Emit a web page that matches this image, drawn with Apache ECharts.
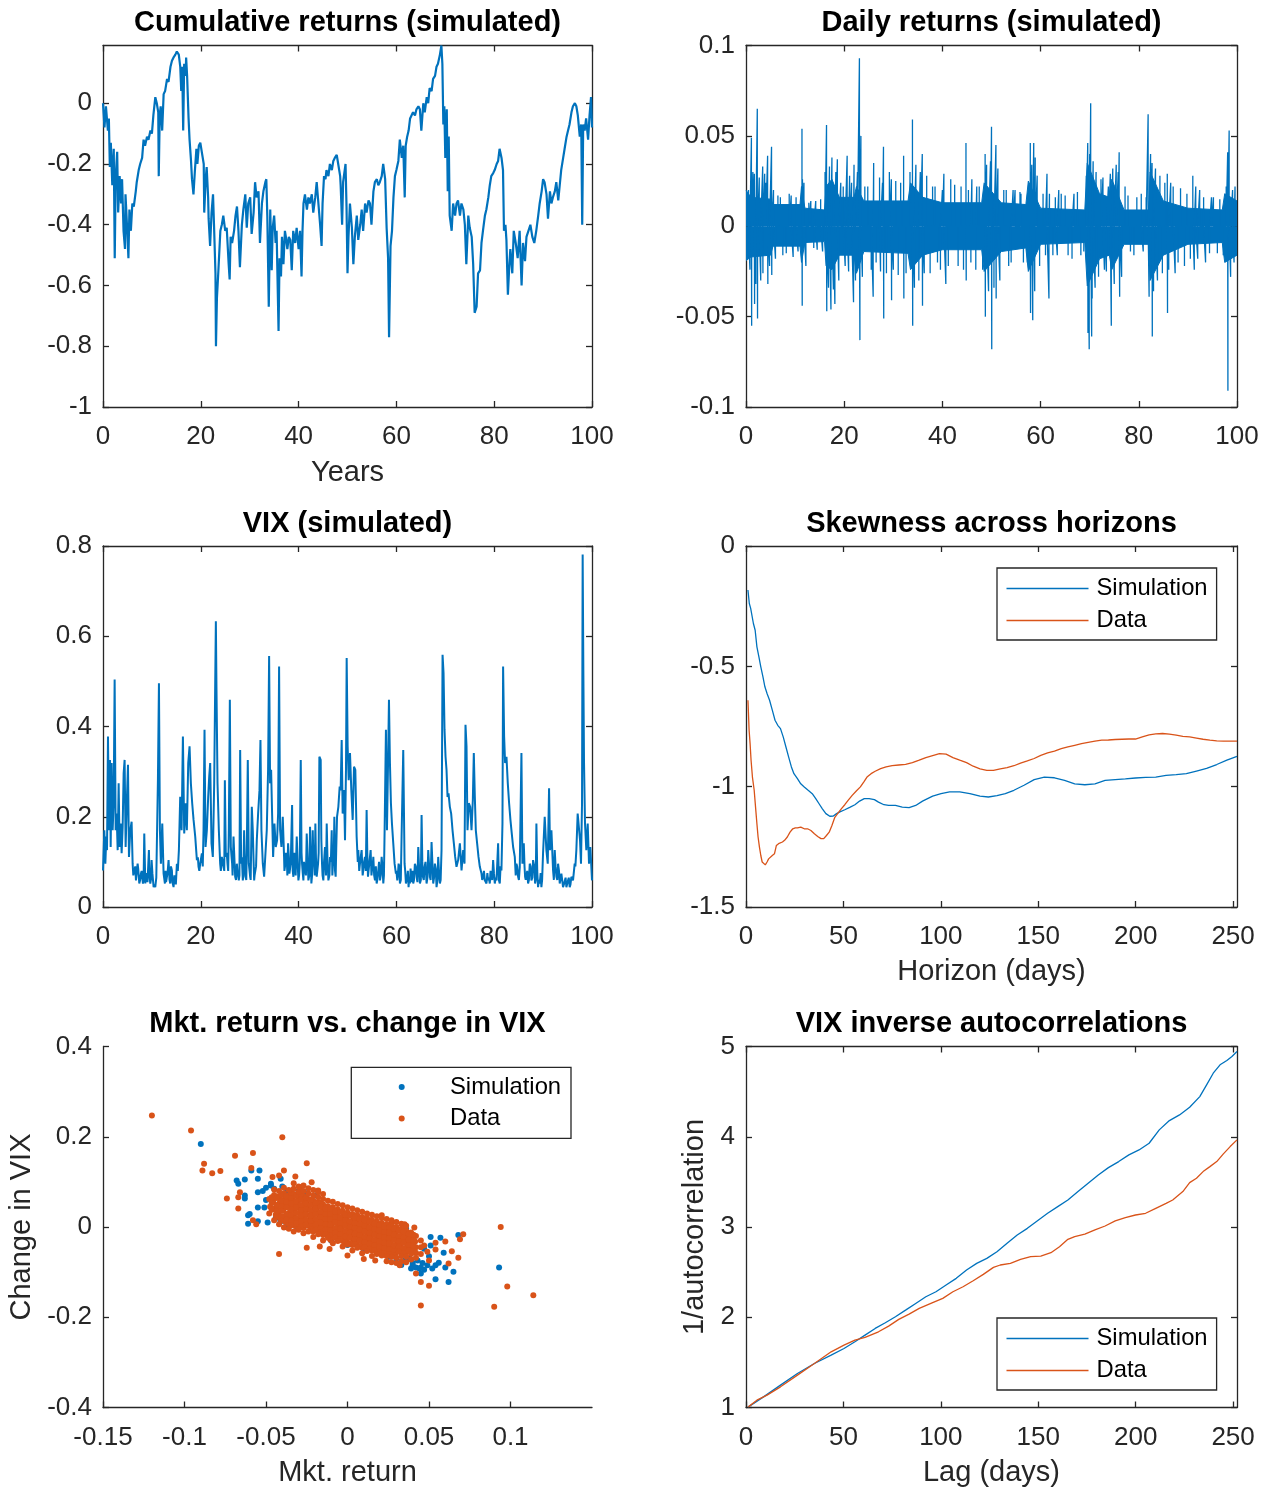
<!DOCTYPE html>
<html>
<head>
<meta charset="utf-8">
<script src="https://cdn.jsdelivr.net/npm/echarts@6/dist/echarts.min.js"></script>
<style>
html, body { margin: 0; padding: 0; background: #fff; }
#chart { width: 1270px; height: 1490px; }
</style>
</head>
<body>
<div id="chart"></div>
<script>
// ---- data ----

// cumulative returns (simulated): [year, value]
const cumReturns = [[0,0],[0.3,-0.08],[0.6,-0.01],[1.0,-0.09],[1.2,-0.05],[1.4,-0.21],[1.6,-0.13],[1.9,-0.27],[2.2,-0.15],[2.4,-0.51],[2.6,-0.24],[2.9,-0.16],[3.1,-0.36],[3.4,-0.24],[3.7,-0.33],[3.9,-0.25],[4.2,-0.42],[4.5,-0.48],[4.6,-0.30],[4.9,-0.40],[5.2,-0.51],[5.4,-0.35],[5.7,-0.42],[6.0,-0.33],[6.3,-0.34],[6.7,-0.29],[6.9,-0.26],[7.3,-0.22],[7.6,-0.20],[8.0,-0.18],[8.3,-0.12],[8.6,-0.14],[9.0,-0.11],[9.3,-0.12],[9.7,-0.09],[10.0,-0.10],[10.3,-0.04],[10.7,0.02],[11.0,0.00],[11.3,-0.03],[11.4,-0.24],[11.6,-0.04],[11.8,-0.01],[12.1,-0.09],[12.4,0.03],[12.7,0.04],[13.1,0.08],[13.4,0.07],[13.8,0.12],[14.1,0.14],[14.4,0.15],[14.8,0.16],[15.1,0.17],[15.5,0.16],[15.8,0.12],[16.0,0.04],[16.2,0.12],[16.4,-0.09],[16.6,0.13],[16.9,0.09],[17.0,0.15],[17.2,0.09],[17.5,-0.05],[17.7,-0.12],[18.0,-0.19],[18.2,-0.25],[18.5,-0.30],[18.8,-0.22],[19.1,-0.15],[19.3,-0.20],[19.6,-0.14],[19.9,-0.13],[20.2,-0.16],[20.6,-0.20],[20.7,-0.36],[21.0,-0.25],[21.2,-0.21],[21.5,-0.31],[21.6,-0.38],[21.9,-0.47],[22.2,-0.36],[22.5,-0.30],[22.7,-0.40],[23.0,-0.56],[23.1,-0.80],[23.3,-0.64],[23.6,-0.55],[24.0,-0.42],[24.3,-0.40],[24.6,-0.37],[25.0,-0.42],[25.3,-0.41],[25.7,-0.53],[25.9,-0.58],[26.1,-0.44],[26.4,-0.46],[26.8,-0.42],[27.1,-0.37],[27.4,-0.34],[27.7,-0.42],[28.0,-0.54],[28.4,-0.40],[28.7,-0.35],[29.1,-0.30],[29.4,-0.41],[29.7,-0.33],[30.1,-0.31],[30.4,-0.43],[30.8,-0.36],[31.1,-0.26],[31.4,-0.31],[31.8,-0.29],[32.1,-0.46],[32.5,-0.33],[32.8,-0.29],[33.2,-0.26],[33.4,-0.25],[33.6,-0.37],[33.9,-0.67],[34.2,-0.35],[34.5,-0.55],[34.7,-0.41],[35.0,-0.37],[35.3,-0.46],[35.5,-0.42],[35.9,-0.75],[36.1,-0.51],[36.4,-0.57],[36.6,-0.44],[36.9,-0.53],[37.2,-0.42],[37.4,-0.44],[37.7,-0.48],[38.0,-0.44],[38.3,-0.45],[38.6,-0.55],[38.9,-0.42],[39.3,-0.46],[39.6,-0.41],[40.0,-0.48],[40.3,-0.42],[40.6,-0.57],[40.8,-0.42],[41.0,-0.33],[41.3,-0.30],[41.7,-0.35],[42.0,-0.31],[42.3,-0.33],[42.7,-0.30],[43.0,-0.36],[43.4,-0.31],[43.7,-0.26],[44.0,-0.32],[44.4,-0.40],[44.7,-0.47],[44.9,-0.33],[45.2,-0.24],[45.5,-0.25],[45.7,-0.22],[46.1,-0.24],[46.4,-0.20],[46.8,-0.22],[47.1,-0.19],[47.4,-0.18],[47.8,-0.17],[48.1,-0.20],[48.5,-0.24],[48.6,-0.27],[48.9,-0.40],[49.1,-0.26],[49.6,-0.20],[49.8,-0.34],[50.0,-0.56],[50.2,-0.44],[50.5,-0.33],[50.9,-0.41],[51.2,-0.53],[51.5,-0.44],[51.9,-0.37],[52.2,-0.45],[52.6,-0.40],[52.9,-0.35],[53.2,-0.42],[53.6,-0.33],[53.9,-0.36],[54.3,-0.32],[54.6,-0.33],[54.9,-0.40],[55.3,-0.29],[55.6,-0.26],[56.0,-0.25],[56.3,-0.27],[56.6,-0.26],[57.0,-0.24],[57.3,-0.20],[57.7,-0.25],[58.0,-0.41],[58.3,-0.51],[58.5,-0.77],[58.8,-0.47],[59.1,-0.42],[59.4,-0.31],[59.7,-0.24],[60.0,-0.22],[60.4,-0.19],[60.7,-0.12],[61.1,-0.18],[61.4,-0.14],[61.7,-0.31],[61.9,-0.14],[62.2,-0.11],[62.5,-0.09],[62.8,-0.05],[63.1,-0.05],[63.4,-0.03],[63.8,-0.04],[64.1,-0.02],[64.5,-0.01],[64.8,-0.02],[65.1,-0.09],[65.5,0.00],[65.8,-0.03],[66.2,0.02],[66.5,0.00],[66.8,0.05],[67.2,0.04],[67.5,0.08],[67.9,0.09],[68.2,0.12],[68.5,0.13],[68.9,0.16],[69.2,0.19],[69.4,0.13],[69.6,-0.07],[69.8,-0.01],[70.0,-0.18],[70.3,-0.02],[70.5,-0.29],[70.7,-0.11],[70.9,-0.37],[71.3,-0.42],[71.6,-0.33],[72.0,-0.37],[72.3,-0.33],[72.6,-0.32],[73.0,-0.37],[73.3,-0.33],[73.7,-0.35],[74.0,-0.40],[74.3,-0.53],[74.7,-0.37],[75.0,-0.41],[75.4,-0.44],[75.7,-0.53],[76.0,-0.69],[76.4,-0.67],[76.7,-0.56],[77.1,-0.55],[77.4,-0.46],[77.7,-0.42],[78.1,-0.37],[78.4,-0.35],[78.8,-0.31],[79.1,-0.27],[79.4,-0.24],[79.8,-0.23],[80.1,-0.22],[80.5,-0.20],[80.8,-0.19],[81.1,-0.15],[81.5,-0.18],[81.8,-0.22],[82.0,-0.42],[82.3,-0.40],[82.5,-0.45],[82.8,-0.63],[83.1,-0.53],[83.3,-0.48],[83.7,-0.56],[84.0,-0.42],[84.4,-0.46],[84.8,-0.51],[85.2,-0.42],[85.6,-0.60],[85.9,-0.46],[86.3,-0.52],[86.6,-0.44],[87.0,-0.42],[87.4,-0.40],[87.8,-0.44],[88.2,-0.46],[88.6,-0.42],[89.0,-0.37],[89.3,-0.33],[89.7,-0.29],[90.0,-0.25],[90.3,-0.26],[90.7,-0.30],[91.0,-0.38],[91.4,-0.29],[91.7,-0.33],[92.0,-0.31],[92.4,-0.29],[92.7,-0.26],[93.1,-0.32],[93.4,-0.27],[93.7,-0.22],[94.1,-0.18],[94.4,-0.15],[94.8,-0.11],[95.1,-0.09],[95.4,-0.07],[95.8,-0.03],[96.1,-0.01],[96.5,0.00],[96.8,-0.01],[97.1,-0.04],[97.5,-0.11],[97.8,-0.07],[98.0,-0.40],[98.2,-0.07],[98.5,-0.09],[98.8,-0.05],[99.2,-0.12],[99.5,-0.04],[99.8,0.02],[100,-0.08]];

// daily returns (simulated): dense band edges and the single large days
const bandYears = [0,1,5,5.5,11,11.3,12,16,16.3,17.5,19,22,22.5,24,33,33.5,36,40,48,48.5,52,57,57.5,60,69,69.5,72,74,74.5,77,82,82.3,85,90,97,97.5,100];
const bandUpper = [0.020,0.016,0.015,0.012,0.012,0.022,0.010,0.009,0.022,0.026,0.016,0.016,0.022,0.014,0.014,0.024,0.016,0.013,0.013,0.024,0.013,0.012,0.025,0.010,0.009,0.035,0.018,0.016,0.026,0.009,0.009,0.030,0.014,0.010,0.009,0.018,0.014];
const bandLower = [-0.019,-0.017,-0.016,-0.011,-0.011,-0.020,-0.009,-0.0085,-0.022,-0.024,-0.016,-0.016,-0.026,-0.014,-0.015,-0.024,-0.016,-0.013,-0.013,-0.025,-0.014,-0.012,-0.025,-0.010,-0.009,-0.033,-0.018,-0.016,-0.024,-0.010,-0.010,-0.030,-0.016,-0.010,-0.009,-0.020,-0.016];
const dailySpikes = [[0.5,0.020],[1.1,0.049],[1.7,0.029],[2.3,0.065],[3.4,0.033],[3.8,0.029],[4.4,0.039],[5.2,0.044],[11.4,0.054],[11.5,0.026],[16.4,0.056],[17.5,0.038],[18.6,0.037],[20.6,0.039],[22.0,0.034],[23.1,0.093],[23.4,0.050],[26.0,0.035],[28.0,0.044],[29.6,0.026],[32.1,0.039],[33.9,0.059],[35.9,0.040],[40.3,0.029],[41.7,0.026],[44.8,0.046],[48.7,0.040],[50.0,0.055],[50.9,0.045],[54.8,0.020],[57.9,0.046],[58.6,0.046],[58.9,0.038],[61.3,0.029],[63.7,0.020],[69.6,0.046],[70.2,0.068],[70.7,0.036],[74.2,0.029],[75.4,0.034],[76.0,0.041],[81.9,0.062],[82.7,0.035],[85.8,0.029],[91.0,0.028],[98.1,0.041],[98.4,0.053],[99.1,0.020],
  [1.15,-0.055],[1.75,-0.043],[2.35,-0.051],[3.45,-0.026],[4.45,-0.032],[5.25,-0.027],[11.45,-0.044],[16.45,-0.047],[17.3,-0.046],[18.1,-0.043],[21.9,-0.042],[23.2,-0.063],[25.9,-0.039],[28.05,-0.051],[29.65,-0.041],[32.15,-0.040],[33.95,-0.055],[35.95,-0.044],[40.7,-0.032],[44.85,-0.030],[48.75,-0.050],[50.05,-0.068],[50.95,-0.040],[57.95,-0.048],[58.4,-0.052],[61.7,-0.040],[69.65,-0.059],[69.9,-0.068],[70.4,-0.061],[71.1,-0.034],[74.4,-0.055],[76.1,-0.039],[82.1,-0.039],[82.75,-0.061],[85.85,-0.048],[91.3,-0.024],[98.15,-0.091],[99.4,-0.020],
  [6.5,0.017],[7.5,-0.016],[8.8,0.018],[9.6,-0.017],[10.2,0.016],[13.2,0.014],[14.5,-0.013],[15.2,0.015],[19.8,0.022],[20.9,-0.025],[21.5,0.024],[24.8,0.022],[25.5,-0.024],[27.2,0.027],[27.4,-0.025],[30.5,0.025],[31.0,-0.027],[36.8,0.028],[37.5,-0.026],[38.5,0.022],[39.6,-0.024],[42.5,0.023],[43.2,-0.022],[46.0,0.026],[46.8,-0.024],[47.5,0.022],[53.0,0.020],[53.5,-0.022],[55.8,0.019],[56.5,-0.020],[61.8,0.018],[62.5,-0.016],[65.0,0.017],[66.4,-0.018],[67.5,0.019],[68.2,-0.016],[72.7,0.027],[73.4,-0.025],[77.8,0.017],[79.0,-0.016],[80.5,0.018],[86.5,0.024],[87.4,-0.026],[88.5,0.021],[89.3,-0.022],[92.4,0.020],[93.6,-0.020],[95.2,0.016],[96.0,-0.015],[97.8,0.022],
  [0.8,-0.024],[1.4,0.030],[2.0,-0.032],[2.7,0.027],[3.0,-0.030],[4.0,0.024],[4.8,-0.022],[5.6,0.020],[6.0,-0.018],[7.0,0.016],[8.2,-0.015],[9.2,0.017],[10.6,-0.014],[11.8,0.024],[12.2,-0.022],[12.8,0.013],[13.8,-0.012],[14.2,0.014],[15.6,-0.014],[16.1,0.030],[16.8,-0.034],[17.0,0.033],[17.8,-0.035],[18.3,0.030],[18.9,-0.030],[19.3,0.024],[20.2,-0.022],[21.1,0.028],[22.3,-0.030],[22.7,0.030],[23.7,-0.028],[24.2,0.022],[26.5,-0.020],[27.8,0.024],[28.6,-0.026],[29.2,0.030],[30.0,-0.024],[31.5,0.024],[32.6,-0.026],[33.4,0.030],[34.3,-0.034],[34.6,0.034],[35.2,-0.030],[35.5,0.030],[36.3,-0.026],[38.0,0.022],[39.0,-0.020],[40.0,0.020],[41.2,-0.022],[43.8,0.022],[44.3,-0.024],[45.3,0.020],[45.8,-0.020],[47.0,0.022],[48.2,-0.024],[49.0,0.034],[49.4,-0.036],[49.8,0.036],[50.5,-0.034],[51.3,0.032],[51.7,-0.030],[52.5,0.020],[54.0,-0.020],[54.4,0.020],[56.0,0.018],[57.3,-0.020],[58.2,0.034],[58.8,-0.036],[59.3,0.028],[59.8,-0.022],[60.5,0.018],[61.0,-0.016],[63.0,0.016],[63.4,-0.016],[64.2,0.018],[65.6,-0.016],[66.8,0.018],[68.8,-0.014],[69.3,0.028],[70.0,0.040],[70.5,-0.040],[71.3,0.030],[71.8,-0.028],[72.3,0.026],[73.0,-0.024],[73.8,0.022],[74.7,0.032],[75.0,-0.032],[75.8,0.030],[76.5,-0.028],[77.2,0.022],[78.3,-0.014],[79.6,0.016],[80.9,-0.014],[81.5,0.016],[82.4,0.040],[83.0,-0.036],[83.4,0.032],[83.8,-0.030],[84.3,0.028],[84.8,-0.026],[85.3,0.024],[86.1,-0.024],[87.0,0.022],[88.0,-0.020],[89.8,0.018],[90.5,-0.018],[91.6,0.022],[92.0,-0.018],[93.2,0.016],[94.4,-0.015],[94.8,0.016],[96.5,0.015],[97.2,-0.016],[98.7,-0.028],[99.6,0.022]];

// VIX (simulated): [year, level] – main trace, and extra readings of the noisy floor
const vixLevels = [[0,0.081],[0.27,0.170],[0.48,0.096],[0.68,0.156],[0.82,0.126],[1.02,0.378],[1.23,0.170],[1.43,0.326],[1.57,0.133],[1.77,0.319],[1.97,0.170],[2.18,0.230],[2.38,0.504],[2.59,0.170],[2.79,0.207],[3.00,0.126],[3.20,0.274],[3.40,0.133],[3.61,0.185],[3.81,0.119],[4.02,0.178],[4.22,0.296],[4.42,0.326],[4.63,0.133],[4.90,0.244],[5.11,0.315],[5.31,0.111],[5.58,0.170],[5.85,0.189],[6.06,0.096],[6.40,0.081],[6.74,0.059],[7.08,0.096],[7.42,0.052],[7.76,0.074],[8.17,0.052],[8.44,0.163],[8.65,0.052],[8.99,0.067],[9.39,0.126],[9.67,0.052],[9.94,0.104],[10.35,0.044],[10.69,0.044],[11.03,0.067],[11.23,0.281],[11.44,0.496],[11.64,0.170],[11.84,0.096],[12.12,0.185],[12.39,0.074],[12.66,0.052],[13.07,0.067],[13.41,0.104],[13.75,0.052],[14.09,0.081],[14.43,0.044],[14.77,0.059],[15.11,0.096],[15.52,0.126],[15.79,0.244],[16.07,0.170],[16.34,0.378],[16.61,0.163],[16.88,0.230],[17.15,0.170],[17.43,0.319],[17.70,0.356],[17.97,0.274],[18.24,0.230],[18.52,0.193],[18.86,0.156],[19.20,0.104],[19.54,0.089],[19.88,0.096],[20.22,0.119],[20.56,0.170],[20.76,0.393],[20.97,0.133],[21.24,0.170],[21.51,0.244],[21.72,0.289],[21.92,0.319],[22.19,0.141],[22.46,0.111],[22.74,0.274],[22.94,0.489],[23.08,0.633],[23.21,0.481],[23.42,0.274],[23.69,0.170],[23.96,0.096],[24.30,0.111],[24.64,0.089],[24.92,0.281],[25.12,0.111],[25.46,0.096],[25.73,0.170],[25.94,0.459],[26.14,0.133],[26.41,0.096],[26.69,0.156],[27.03,0.067],[27.37,0.096],[27.77,0.059],[28.05,0.348],[28.25,0.096],[28.59,0.059],[28.86,0.170],[29.14,0.067],[29.41,0.126],[29.61,0.326],[29.82,0.096],[30.09,0.067],[30.43,0.222],[30.63,0.170],[30.91,0.059],[31.18,0.067],[31.45,0.148],[31.72,0.207],[32.00,0.259],[32.20,0.370],[32.40,0.170],[32.68,0.096],[32.95,0.067],[33.22,0.067],[33.49,0.170],[33.76,0.304],[33.97,0.556],[34.17,0.274],[34.38,0.304],[34.58,0.207],[34.79,0.111],[35.06,0.185],[35.33,0.133],[35.60,0.148],[35.81,0.207],[36.01,0.533],[36.22,0.170],[36.49,0.133],[36.76,0.200],[37.03,0.111],[37.30,0.096],[37.58,0.111],[37.85,0.141],[38.12,0.074],[38.39,0.096],[38.67,0.226],[38.94,0.067],[39.28,0.096],[39.62,0.156],[39.96,0.059],[40.23,0.096],[40.44,0.326],[40.71,0.096],[40.98,0.059],[41.32,0.096],[41.66,0.163],[42.00,0.059],[42.34,0.178],[42.61,0.052],[42.89,0.170],[43.16,0.096],[43.43,0.185],[43.70,0.067],[43.98,0.096],[44.25,0.333],[44.52,0.326],[44.79,0.096],[45.06,0.059],[45.40,0.133],[45.75,0.185],[46.09,0.059],[46.43,0.111],[46.77,0.170],[47.04,0.096],[47.31,0.200],[47.58,0.067],[47.86,0.200],[48.13,0.222],[48.40,0.267],[48.60,0.259],[48.81,0.370],[49.01,0.207],[49.29,0.259],[49.49,0.148],[49.69,0.304],[49.83,0.552],[50.03,0.356],[50.24,0.281],[50.51,0.341],[50.78,0.259],[51.06,0.193],[51.33,0.311],[51.60,0.304],[51.87,0.156],[52.21,0.126],[52.55,0.096],[52.89,0.126],[53.23,0.081],[53.57,0.111],[53.91,0.215],[54.19,0.067],[54.46,0.096],[54.73,0.126],[55.00,0.081],[55.28,0.111],[55.62,0.059],[55.96,0.052],[56.30,0.081],[56.64,0.059],[56.98,0.111],[57.32,0.052],[57.59,0.170],[57.86,0.393],[58.07,0.170],[58.27,0.304],[58.48,0.459],[58.68,0.319],[58.88,0.230],[59.09,0.185],[59.36,0.141],[59.63,0.096],[59.90,0.074],[60.18,0.059],[60.45,0.096],[60.72,0.052],[61.06,0.156],[61.40,0.348],[61.67,0.096],[61.95,0.052],[62.22,0.067],[62.49,0.044],[62.76,0.052],[63.17,0.074],[63.44,0.052],[63.78,0.096],[64.13,0.067],[64.47,0.133],[64.81,0.052],[65.15,0.204],[65.42,0.067],[65.76,0.089],[66.17,0.052],[66.51,0.126],[66.85,0.067],[67.19,0.144],[67.53,0.052],[67.87,0.096],[68.21,0.044],[68.55,0.111],[68.89,0.052],[69.23,0.126],[69.44,0.559],[69.64,0.519],[69.84,0.393],[70.05,0.333],[70.25,0.304],[70.46,0.244],[70.66,0.252],[70.93,0.222],[71.20,0.207],[71.48,0.170],[71.75,0.141],[72.02,0.111],[72.29,0.089],[72.63,0.104],[72.98,0.141],[73.32,0.081],[73.66,0.126],[73.93,0.096],[74.13,0.404],[74.34,0.356],[74.54,0.170],[74.81,0.230],[75.09,0.222],[75.36,0.170],[75.63,0.237],[75.83,0.341],[76.04,0.244],[76.24,0.170],[76.51,0.141],[76.79,0.111],[77.06,0.089],[77.40,0.074],[77.74,0.067],[78.08,0.059],[78.42,0.052],[78.76,0.059],[79.10,0.052],[79.44,0.067],[79.78,0.104],[80.12,0.052],[80.46,0.059],[80.80,0.141],[81.14,0.052],[81.48,0.081],[81.69,0.185],[81.82,0.533],[82.03,0.378],[82.23,0.319],[82.51,0.333],[82.78,0.274],[83.05,0.230],[83.32,0.193],[83.59,0.163],[83.87,0.133],[84.21,0.111],[84.55,0.096],[84.89,0.067],[85.23,0.089],[85.57,0.341],[85.77,0.096],[86.05,0.141],[86.32,0.067],[86.59,0.059],[86.93,0.052],[87.27,0.096],[87.61,0.059],[87.95,0.104],[88.36,0.052],[88.63,0.185],[88.97,0.044],[89.31,0.052],[89.65,0.044],[89.99,0.119],[90.33,0.200],[90.67,0.126],[90.95,0.096],[91.22,0.263],[91.42,0.126],[91.70,0.170],[92.04,0.081],[92.38,0.126],[92.72,0.067],[93.06,0.096],[93.40,0.052],[93.74,0.074],[94.08,0.044],[94.42,0.052],[94.76,0.044],[95.10,0.059],[95.44,0.044],[95.78,0.067],[96.12,0.059],[96.46,0.096],[96.80,0.126],[97.07,0.207],[97.34,0.207],[97.55,0.148],[97.75,0.096],[97.96,0.230],[98.09,0.781],[98.23,0.526],[98.37,0.319],[98.57,0.185],[98.84,0.126],[99.12,0.185],[99.39,0.096],[99.66,0.133],[100,0.059]];
const vixFloor = [[6.2,0.07],[6.6,0.09],[6.9,0.06],[7.2,0.085],[7.6,0.06],[7.9,0.08],[8.3,0.06],[8.8,0.075],[9.1,0.055],[9.5,0.07],[9.8,0.06],[10.1,0.075],[10.5,0.05],[10.9,0.065],
  [12.5,0.065],[12.8,0.08],[12.9,0.055],[13.2,0.075],[13.6,0.06],[13.9,0.09],[14.2,0.055],[14.6,0.07],[14.9,0.05],[15.3,0.08],
  [19.4,0.11],[19.7,0.08],[20.1,0.1],[20.4,0.09],
  [24.1,0.08],[24.5,0.1],[24.8,0.08],[25.3,0.12],[25.6,0.08],[26.3,0.11],[26.5,0.07],[26.9,0.1],[27.2,0.06],[27.5,0.08],[27.9,0.07],[28.4,0.11],[28.7,0.07],[29.0,0.1],[29.3,0.06],[30.0,0.1],[30.2,0.06],[30.8,0.1],[31.0,0.07],[31.3,0.09],
  [37.1,0.08],[37.4,0.12],[37.7,0.07],[38.0,0.11],[38.3,0.07],[38.5,0.1],[38.8,0.08],[39.1,0.12],[39.4,0.07],[39.8,0.1],[40.1,0.07],[40.6,0.12],[40.85,0.075],[41.1,0.1],[41.5,0.07],[41.8,0.12],[42.2,0.07],[42.5,0.1],[42.75,0.07],[43.0,0.12],[43.3,0.07],[43.55,0.11],[43.85,0.07],[44.1,0.12],[44.65,0.15],[44.9,0.07],[45.2,0.1],[45.6,0.07],[45.9,0.11],[46.3,0.07],[46.6,0.1],[46.9,0.07],[47.2,0.12],[47.45,0.08],[47.7,0.13],
  [52.1,0.1],[52.4,0.08],[52.7,0.11],[53.1,0.07],[53.4,0.1],[53.75,0.08],[54.05,0.12],[54.3,0.08],[54.6,0.1],[54.9,0.07],[55.15,0.09],[55.45,0.07],[55.8,0.09],[56.1,0.06],[56.45,0.1],[56.8,0.07],[57.15,0.09],[57.45,0.07],
  [60.0,0.08],[60.3,0.07],[60.6,0.09],[60.9,0.06],[61.8,0.08],[62.1,0.055],[62.35,0.08],[62.6,0.06],[62.9,0.085],[63.05,0.055],[63.3,0.08],[63.6,0.06],[63.95,0.09],[64.3,0.055],[64.65,0.085],[65.0,0.06],[65.3,0.1],[65.6,0.06],[65.95,0.1],[66.35,0.065],[66.7,0.09],[67.0,0.06],[67.35,0.1],[67.7,0.065],[68.05,0.085],[68.4,0.06],[68.7,0.08],[69.05,0.06],
  [77.2,0.085],[77.55,0.06],[77.9,0.08],[78.25,0.06],[78.6,0.075],[78.9,0.065],[79.25,0.08],[79.6,0.06],[79.95,0.075],[80.3,0.065],[80.6,0.09],[80.95,0.06],[81.3,0.09],
  [84.4,0.07],[84.7,0.09],[85.05,0.06],[86.2,0.09],[86.45,0.06],[86.75,0.08],[87.1,0.06],[87.45,0.09],[87.8,0.065],[88.2,0.09],[88.5,0.06],[88.8,0.08],[89.15,0.06],[89.5,0.075],[89.8,0.06],
  [92.2,0.06],[92.55,0.09],[92.9,0.06],[93.25,0.08],[93.55,0.055],[93.9,0.07],[94.25,0.05],[94.6,0.065],[94.9,0.05],[95.25,0.065],[95.6,0.05],[95.95,0.07],[96.3,0.06],[96.6,0.09]];

// skewness across horizons: [days, skewness]
const skewSim = [[1.0,-0.183],[1.7,-0.239],[2.4,-0.259],[3.1,-0.259],[3.8,-0.322],[4.7,-0.350],[5.6,-0.419],[6.6,-0.460],[7.6,-0.502],[8.7,-0.544],[9.7,-0.585],[10.8,-0.613],[12.1,-0.641],[13.5,-0.682],[14.9,-0.724],[16.3,-0.745],[17.7,-0.759],[19.1,-0.793],[20.5,-0.835],[21.9,-0.877],[23.3,-0.918],[24.6,-0.946],[26.4,-0.967],[28.1,-0.988],[29.9,-1.001],[31.9,-1.015],[34.0,-1.029],[35.8,-1.050],[37.5,-1.071],[39.2,-1.092],[41.0,-1.112],[43.0,-1.123],[44.8,-1.122],[46.5,-1.112],[48.2,-1.105],[50.7,-1.096],[53.5,-1.085],[55.9,-1.075],[58.3,-1.060],[60.7,-1.050],[63.2,-1.050],[65.9,-1.054],[68.0,-1.064],[70.8,-1.075],[73.2,-1.078],[76.7,-1.078],[80.2,-1.085],[83.7,-1.087],[87.1,-1.078],[90.6,-1.060],[95.8,-1.039],[100.1,-1.029],[104.5,-1.022],[109.7,-1.022],[114.9,-1.029],[120.1,-1.039],[124.4,-1.043],[128.8,-1.037],[133.1,-1.029],[137.5,-1.015],[142.7,-0.994],[147.9,-0.971],[153.1,-0.960],[158.3,-0.963],[163.5,-0.974],[168.7,-0.988],[173.9,-0.992],[179.1,-0.988],[184.3,-0.974],[189.5,-0.971],[194.7,-0.968],[199.9,-0.964],[205.1,-0.961],[210.3,-0.960],[215.6,-0.953],[220.8,-0.950],[226.0,-0.946],[231.2,-0.935],[236.4,-0.924],[241.6,-0.908],[246.8,-0.890],[252.0,-0.874]];
const skewData = [[1.0,-0.641],[1.6,-0.766],[2.1,-0.821],[2.6,-0.890],[3.3,-0.960],[4.2,-1.015],[4.9,-1.085],[5.6,-1.154],[6.2,-1.209],[6.9,-1.251],[7.6,-1.286],[8.3,-1.313],[9.0,-1.320],[9.9,-1.325],[10.8,-1.313],[11.6,-1.300],[12.5,-1.293],[13.5,-1.286],[14.6,-1.279],[15.6,-1.244],[16.7,-1.237],[17.7,-1.230],[18.7,-1.230],[19.8,-1.223],[21.2,-1.209],[22.6,-1.189],[24.0,-1.175],[25.3,-1.171],[26.4,-1.171],[28.1,-1.168],[29.9,-1.175],[31.6,-1.175],[33.3,-1.182],[35.1,-1.196],[36.8,-1.207],[38.5,-1.216],[39.9,-1.216],[41.3,-1.203],[42.7,-1.189],[44.1,-1.161],[45.5,-1.129],[47.2,-1.110],[48.9,-1.092],[50.7,-1.075],[52.4,-1.057],[54.5,-1.036],[56.6,-1.018],[58.7,-1.001],[60.4,-0.981],[62.1,-0.960],[64.2,-0.946],[66.3,-0.936],[69.1,-0.925],[71.9,-0.918],[75.0,-0.913],[78.4,-0.910],[81.9,-0.907],[85.4,-0.900],[88.9,-0.890],[92.3,-0.879],[95.8,-0.871],[99.3,-0.863],[102.7,-0.865],[106.2,-0.879],[109.7,-0.890],[113.2,-0.900],[116.6,-0.915],[120.1,-0.926],[123.6,-0.932],[127.0,-0.932],[130.5,-0.926],[134.0,-0.921],[137.5,-0.913],[140.9,-0.902],[144.4,-0.893],[147.9,-0.883],[151.3,-0.870],[154.8,-0.860],[158.3,-0.852],[161.8,-0.842],[165.2,-0.835],[168.7,-0.828],[172.2,-0.821],[175.6,-0.816],[179.1,-0.811],[182.6,-0.807],[186.0,-0.806],[189.5,-0.804],[193.0,-0.803],[196.5,-0.802],[199.9,-0.802],[203.4,-0.793],[206.9,-0.785],[210.3,-0.781],[213.8,-0.779],[217.3,-0.782],[220.8,-0.786],[224.2,-0.791],[227.7,-0.793],[231.2,-0.798],[234.6,-0.803],[238.1,-0.807],[241.6,-0.810],[245.0,-0.811],[248.5,-0.811],[252.0,-0.811]];

// mkt. return vs. change in VIX: [return, change]
const scatterSim = [[-0.090,0.184],[-0.067,0.096],[-0.063,0.105],[-0.059,0.125],[-0.054,0.125],[-0.055,0.107],[-0.055,0.077],[-0.063,0.063],[-0.063,0.070],[-0.060,0.029],[-0.061,0.007],[-0.055,0.043],[-0.051,0.043],[-0.049,0.010],[-0.050,0.087],[-0.047,0.096],[-0.041,0.107],[-0.041,0.013],[-0.035,0.004],[-0.031,0.000],[-0.068,0.103],[-0.052,0.080],[-0.047,0.092],[-0.061,0.026],[-0.055,0.013],[-0.029,0.000],[-0.045,0.085],[-0.040,0.090],[-0.037,0.080],[-0.050,0.060],[-0.044,0.020],[-0.038,0.000],[-0.020,0.070],[-0.030,0.080],[-0.025,0.075],
  [0.093,-0.090],[0.068,-0.018],[0.065,-0.099],[0.062,-0.122],[0.054,-0.116],[0.060,-0.090],[0.056,-0.079],[0.059,-0.057],[0.051,-0.022],[0.051,-0.041],[0.057,-0.024],[0.045,-0.103],[0.045,-0.090],[0.040,-0.085],[0.043,-0.074],[0.049,-0.085],[0.054,-0.085],[0.038,-0.070],[0.034,-0.059],[0.026,-0.066],[0.036,-0.004],[0.047,-0.048],[0.030,-0.070],[0.035,-0.075],[0.040,-0.080],[0.042,-0.090],[0.047,-0.095],[0.050,-0.065],[0.028,-0.062],[0.020,-0.055],[0.010,-0.050],[0.000,-0.040],[-0.010,-0.030],
  [0.044,-0.092],[0.039,-0.092],[0.046,-0.080],[0.052,-0.092],[0.033,-0.084]];
const scatterData = [[-0.120,0.247],[-0.096,0.214],[-0.040,0.199],[-0.058,0.164],[-0.069,0.158],[-0.088,0.140],[-0.089,0.125],[-0.083,0.119],[-0.078,0.124],[-0.059,0.131],[-0.025,0.141],[-0.039,0.125],[-0.032,0.112],[-0.046,0.111],[-0.042,0.114],[-0.022,0.099],[-0.029,0.088],[-0.018,0.081],[-0.074,0.063],[-0.067,0.066],[-0.066,0.077],[-0.067,0.041],[-0.056,0.006],[-0.058,0.015],[-0.042,-0.060],[-0.025,-0.046],[-0.017,-0.043],[-0.011,-0.049],[0.000,-0.063],[0.010,-0.071],[0.017,-0.074],[0.032,-0.085],[0.042,-0.103],[0.045,-0.122],[0.050,-0.130],[0.045,-0.174],[0.094,0.000],[0.098,-0.132],[0.090,-0.177],[0.114,-0.151],[0.071,-0.016],[0.069,-0.027],[0.068,-0.068],[0.064,-0.054],[0.062,-0.081],[0.054,-0.050],[0.060,-0.032],[0.054,-0.035],[0.047,-0.041],[0.049,-0.055],[0.050,-0.074],[0.027,0.011],[0.035,0.006],[0.041,-0.001],[0.021,0.026],
  [-0.048,0.062],[-0.0475,0.045],[-0.048,0.03],
  [-0.045,0.071],[-0.0455,0.056],[-0.045,0.041],[-0.044,0.027],
  [-0.042,0.068],[-0.0415,0.055],[-0.042,0.043],[-0.0425,0.03],[-0.041,0.018],
  [-0.039,0.075],[-0.0385,0.062],[-0.039,0.049],[-0.0395,0.036],[-0.039,0.022],[-0.038,0.011],
  [-0.036,0.07],[-0.0365,0.058],[-0.036,0.045],[-0.0355,0.032],[-0.036,0.02],[-0.0365,0.008],
  [-0.033,0.073],[-0.0335,0.061],[-0.033,0.048],[-0.0325,0.036],[-0.033,0.024],[-0.0335,0.012],[-0.032,0.002],
  [-0.03,0.066],[-0.0305,0.054],[-0.03,0.042],[-0.0295,0.03],[-0.03,0.018],[-0.0305,0.006],
  [-0.027,0.068],[-0.0265,0.057],[-0.027,0.045],[-0.0275,0.034],[-0.027,0.022],[-0.0265,0.01],[-0.027,-0.002],
  [-0.024,0.062],[-0.0245,0.05],[-0.024,0.038],[-0.0235,0.026],[-0.024,0.014],[-0.0245,0.003],
  [-0.021,0.058],[-0.0205,0.047],[-0.021,0.035],[-0.0215,0.023],[-0.021,0.011],[-0.0205,0.0],[-0.021,-0.01],
  [-0.018,0.055],[-0.0185,0.043],[-0.018,0.031],[-0.0175,0.02],[-0.018,0.008],[-0.0185,-0.004],
  [-0.015,0.05],[-0.0145,0.039],[-0.015,0.027],[-0.0155,0.015],[-0.015,0.004],[-0.0145,-0.008],[-0.015,-0.018],
  [-0.012,0.046],[-0.0125,0.035],[-0.012,0.023],[-0.0115,0.011],[-0.012,0.0],[-0.0125,-0.012],
  [-0.009,0.044],[-0.0085,0.032],[-0.009,0.02],[-0.0095,0.008],[-0.009,-0.004],[-0.0085,-0.015],[-0.009,-0.024],
  [-0.006,0.039],[-0.0065,0.028],[-0.006,0.016],[-0.0055,0.004],[-0.006,-0.008],[-0.0065,-0.019],
  [-0.003,0.036],[-0.0025,0.024],[-0.003,0.012],[-0.0035,0.0],[-0.003,-0.012],[-0.0025,-0.023],[-0.003,-0.031],
  [0,0.032],[-0.0005,0.021],[0,0.009],[0.0005,-0.003],[0,-0.015],[-0.0005,-0.027],
  [0.003,0.029],[0.0035,0.017],[0.003,0.005],[0.0025,-0.007],[0.003,-0.019],[0.0035,-0.031],[0.003,-0.04],
  [0.006,0.026],[0.0055,0.014],[0.006,0.002],[0.0065,-0.01],[0.006,-0.022],[0.0055,-0.034],
  [0.009,0.022],[0.0095,0.01],[0.009,-0.002],[0.0085,-0.014],[0.009,-0.026],[0.0095,-0.038],[0.009,-0.046],
  [0.012,0.019],[0.0115,0.007],[0.012,-0.005],[0.0125,-0.017],[0.012,-0.029],[0.0115,-0.041],
  [0.015,0.016],[0.0155,0.004],[0.015,-0.008],[0.0145,-0.02],[0.015,-0.032],[0.0155,-0.044],[0.015,-0.052],
  [0.018,0.012],[0.0175,0.0],[0.018,-0.012],[0.0185,-0.024],[0.018,-0.036],[0.0175,-0.048],
  [0.021,0.009],[0.0215,-0.003],[0.021,-0.015],[0.0205,-0.027],[0.021,-0.039],[0.0215,-0.051],
  [0.024,0.006],[0.0235,-0.006],[0.024,-0.018],[0.0245,-0.03],[0.024,-0.042],[0.0235,-0.054],
  [0.027,0.004],[0.0275,-0.008],[0.027,-0.02],[0.0265,-0.032],[0.027,-0.044],[0.0275,-0.057],
  [0.03,0.0],[0.0295,-0.012],[0.03,-0.024],[0.0305,-0.036],[0.03,-0.048],[0.0295,-0.058],
  [0.033,-0.004],[0.0335,-0.016],[0.033,-0.028],[0.0325,-0.04],[0.033,-0.052],
  [0.036,-0.008],[0.0355,-0.02],[0.036,-0.032],[0.0365,-0.044],[0.036,-0.056],
  [0.039,-0.012],[0.0395,-0.024],[0.039,-0.036],[0.0385,-0.048],
  [0.042,-0.02],[0.0415,-0.032],[0.042,-0.045],
  [-0.0465,0.066],[-0.0465,0.053],[-0.0465,0.038],
  [-0.0435,0.064],[-0.0435,0.049],[-0.0435,0.035],[-0.0435,0.022],
  [-0.0405,0.071],[-0.0405,0.058],[-0.0405,0.046],[-0.0405,0.036],[-0.0405,0.024],[-0.0405,0.014],
  [-0.0375,0.068],[-0.0375,0.055],[-0.0375,0.043],[-0.0375,0.029],[-0.0375,0.016],
  [-0.0345,0.076],[-0.0345,0.064],[-0.0345,0.052],[-0.0345,0.039],[-0.0345,0.026],[-0.0345,0.014],[-0.0345,0.004],
  [-0.0315,0.069],[-0.0315,0.057],[-0.0315,0.044],[-0.0315,0.031],[-0.0315,0.019],[-0.0315,0.008],
  [-0.0285,0.072],[-0.0285,0.061],[-0.0285,0.049],[-0.0285,0.037],[-0.0285,0.025],[-0.0285,0.013],[-0.0285,0.001],
  [-0.0255,0.064],[-0.0255,0.052],[-0.0255,0.040],[-0.0255,0.028],[-0.0255,0.016],[-0.0255,0.005],
  [-0.0225,0.060],[-0.0225,0.049],[-0.0225,0.037],[-0.0225,0.025],[-0.0225,0.013],[-0.0225,0.002],[-0.0225,-0.006],
  [-0.0195,0.052],[-0.0195,0.041],[-0.0195,0.029],[-0.0195,0.017],[-0.0195,0.005],[-0.0195,-0.006],
  [-0.0165,0.053],[-0.0165,0.045],[-0.0165,0.033],[-0.0165,0.021],[-0.0165,0.010],[-0.0165,-0.002],[-0.0165,-0.013],
  [-0.0135,0.041],[-0.0135,0.029],[-0.0135,0.017],[-0.0135,0.006],[-0.0135,-0.006],[-0.0135,-0.016],
  [-0.0105,0.040],[-0.0105,0.029],[-0.0105,0.017],[-0.0105,0.005],[-0.0105,-0.008],[-0.0105,-0.019],[-0.0105,-0.028],
  [-0.0075,0.034],[-0.0075,0.022],[-0.0075,0.010],[-0.0075,-0.002],[-0.0075,-0.013],[-0.0075,-0.024],
  [-0.0045,0.033],[-0.0045,0.021],[-0.0045,0.009],[-0.0045,-0.004],[-0.0045,-0.016],[-0.0045,-0.027],
  [-0.0015,0.027],[-0.0015,0.015],[-0.0015,0.003],[-0.0015,-0.009],[-0.0015,-0.021],[-0.0015,-0.033],
  [0.0015,0.025],[0.0015,0.012],[0.0015,0.0],[0.0015,-0.012],[0.0015,-0.024],[0.0015,-0.036],
  [0.0045,0.021],[0.0045,0.009],[0.0045,-0.003],[0.0045,-0.015],[0.0045,-0.027],[0.0045,-0.038],
  [0.0075,0.018],[0.0075,0.006],[0.0075,-0.006],[0.0075,-0.018],[0.0075,-0.030],[0.0075,-0.042],
  [0.0105,0.015],[0.0105,0.002],[0.0105,-0.010],[0.0105,-0.022],[0.0105,-0.034],[0.0105,-0.045],
  [0.0135,0.011],[0.0135,-0.001],[0.0135,-0.013],[0.0135,-0.025],[0.0135,-0.037],[0.0135,-0.048],
  [0.0165,0.007],[0.0165,-0.005],[0.0165,-0.017],[0.0165,-0.029],[0.0165,-0.041],[0.0165,-0.052],
  [0.0195,0.004],[0.0195,-0.008],[0.0195,-0.020],[0.0195,-0.032],[0.0195,-0.044],[0.0195,-0.055],
  [0.0225,0.001],[0.0225,-0.011],[0.0225,-0.023],[0.0225,-0.035],[0.0225,-0.047],[0.0225,-0.058],
  [0.0255,-0.001],[0.0255,-0.013],[0.0255,-0.025],[0.0255,-0.037],[0.0255,-0.050],[0.0255,-0.060],
  [0.0285,-0.004],[0.0285,-0.017],[0.0285,-0.029],[0.0285,-0.041],[0.0285,-0.053],[0.0285,-0.062],
  [0.0315,-0.007],[0.0315,-0.020],[0.0315,-0.032],[0.0315,-0.044],[0.0315,-0.055],
  [0.0345,-0.010],[0.0345,-0.023],[0.0345,-0.035],[0.0345,-0.047],[0.0345,-0.058],
  [0.0375,-0.016],[0.0375,-0.028],[0.0375,-0.040],[0.0375,-0.052],
  [0.0405,-0.017],[0.0405,-0.030],[0.0405,-0.041],[0.0405,-0.053],
  [-0.03,0.078],[-0.027,0.08],[-0.024,0.074],[-0.021,0.07],[-0.033,0.085],[-0.018,0.066],[-0.015,0.062],
  [0.03,-0.068],[0.033,-0.064],[0.027,-0.066],[0.036,-0.066],[0.024,-0.064],[0.039,-0.06],[0.042,-0.057],
  [-0.045,0.083],[-0.042,0.080],[-0.039,0.087],[-0.036,0.082],[-0.033,0.097],[-0.030,0.090],[-0.027,0.092],[-0.024,0.086],[-0.021,0.082],[-0.018,0.077],[-0.015,0.073],[-0.012,0.058],[-0.009,0.056],[-0.006,0.051],[-0.003,0.048],[0,0.044],[0.003,0.041],[0.006,0.037],[0.009,0.034],[0.012,0.030],[0.015,0.027],[0.018,0.024],[0.021,0.020],[0.024,0.018],[0.027,0.015],[0.030,0.011],[0.033,0.007],[0.036,0.003],
  [-0.045,0.015],[-0.042,0.006],[-0.039,-0.001],[-0.036,-0.004],[-0.033,-0.010],[-0.030,-0.006],[-0.027,-0.014],[-0.024,-0.010],[-0.021,-0.022],[-0.018,-0.016],[-0.015,-0.030],[-0.012,-0.024],[-0.009,-0.036],[-0.006,-0.031],[-0.003,-0.043],[0,-0.039],[0.003,-0.052],[0.006,-0.046],[0.009,-0.058],[0.012,-0.053],[0.015,-0.064],[0.018,-0.060],[0.021,-0.063],[0.024,-0.076],[0.027,-0.078],[0.030,-0.080],[0.033,-0.076],[0.036,-0.078],[0.039,-0.072],[0.042,-0.068],[0.045,-0.060],[0.045,-0.030],[0.045,-0.045]];

// VIX inverse autocorrelations: [lag, 1/autocorrelation]
const invAcSim = [[1.2,1.007],[9.0,1.118],[17.7,1.248],[26.4,1.377],[35.1,1.488],[43.7,1.580],[50.3,1.654],[55.9,1.728],[61.1,1.802],[66.3,1.876],[71.5,1.939],[76.7,2.006],[81.9,2.079],[87.1,2.153],[92.3,2.227],[97.5,2.283],[102.7,2.357],[107.9,2.431],[113.2,2.523],[118.4,2.597],[123.6,2.652],[128.8,2.726],[134.0,2.819],[139.2,2.911],[144.4,2.985],[149.6,3.070],[154.8,3.152],[160.0,3.226],[165.2,3.299],[170.4,3.392],[175.6,3.484],[180.8,3.577],[186.0,3.658],[191.3,3.725],[196.5,3.799],[201.7,3.854],[206.9,3.928],[212.1,4.076],[217.3,4.179],[222.5,4.242],[227.7,4.327],[232.9,4.445],[236.4,4.575],[239.8,4.704],[243.3,4.797],[246.8,4.845],[249.4,4.889],[252.0,4.945]];
const invAcData = [[1.2,1.007],[5.6,1.081],[10.8,1.137],[17.7,1.229],[26.4,1.359],[35.1,1.488],[43.7,1.617],[50.3,1.691],[55.9,1.747],[61.1,1.776],[68.0,1.839],[73.2,1.902],[78.4,1.976],[83.7,2.035],[88.9,2.098],[95.8,2.161],[101.0,2.209],[106.2,2.283],[111.4,2.338],[116.6,2.405],[121.8,2.475],[127.0,2.553],[130.5,2.579],[135.7,2.597],[140.9,2.641],[146.1,2.671],[151.3,2.678],[156.5,2.715],[160.9,2.782],[165.2,2.863],[168.7,2.893],[173.9,2.922],[179.1,2.967],[184.3,3.011],[189.5,3.067],[194.7,3.104],[199.9,3.133],[205.1,3.152],[210.3,3.207],[215.6,3.262],[219.0,3.299],[224.2,3.392],[227.7,3.492],[231.2,3.540],[234.6,3.614],[238.1,3.669],[241.6,3.725],[245.0,3.810],[248.5,3.891],[252.0,3.965]];

// tick values
const yearTicks = [0, 20, 40, 60, 80, 100];
const dayTicks = [0, 50, 100, 150, 200, 250];
const cumTicks = [-1, -0.8, -0.6, -0.4, -0.2, 0];
const dailyTicks = [-0.1, -0.05, 0, 0.05, 0.1];
const vixTicks = [0, 0.2, 0.4, 0.6, 0.8];
const skewTicks = [-1.5, -1, -0.5, 0];
const retTicks = [-0.15, -0.1, -0.05, 0, 0.05, 0.1];
const dvixTicks = [-0.4, -0.2, 0, 0.2, 0.4];
const invTicks = [1, 2, 3, 4, 5];

// ---- chart ----
const BLUE = '#0072BD', ORANGE = '#D95319', AX = '#262626';
const FONT = '"Liberation Sans", Arial, Helvetica, sans-serif';
const LEG_FONT = 23.8;

const grids = [
  { left: 103, top: 45.5, width: 489, height: 361.5 },
  { left: 746, top: 45.5, width: 491, height: 361.5 },
  { left: 103, top: 546, width: 489, height: 361 },
  { left: 746, top: 546, width: 491, height: 361 },
  { left: 103, top: 1046.5, width: 489, height: 361 },
  { left: 746, top: 1046.5, width: 491, height: 361 }
];

const fmt = v => String(Math.round(v * 1000) / 1000);

function axis(dim, g, min, max, ticks, main, show) {
  return {
    type: 'value', gridIndex: g, min: min, max: max, show: show,
    position: dim === 'x' ? (main ? 'bottom' : 'top') : (main ? 'left' : 'right'),
    splitLine: { show: false },
    axisLine: { show: true, onZero: false, lineStyle: { color: AX, width: 1.3 } },
    axisTick: { show: true, inside: true, length: 6, customValues: ticks, lineStyle: { color: AX, width: 1.3 } },
    axisLabel: main ? {
      show: true, customValues: ticks, formatter: fmt,
      margin: dim === 'x' ? 17 : 11, fontSize: 26, color: AX, fontFamily: FONT,
      padding: dim === 'x' ? 0 : [5, 0, 0, 0]
    } : { show: false }
  };
}

const panels = [
  { x: [0, 100, yearTicks], y: [-1, 0.19, cumTicks], box: true },
  { x: [0, 100, yearTicks], y: [-0.1, 0.1, dailyTicks], box: true },
  { x: [0, 100, yearTicks], y: [0, 0.8, vixTicks], box: true },
  { x: [0, 252, dayTicks], y: [-1.5, 0, skewTicks], box: true },
  { x: [-0.15, 0.15, retTicks], y: [-0.4, 0.4, dvixTicks], box: false },
  { x: [0, 252, dayTicks], y: [1, 5, invTicks], box: true }
];

const xAxes = [], yAxes = [];
panels.forEach((p, g) => {
  xAxes.push(axis('x', g, p.x[0], p.x[1], p.x[2], true, true));
  xAxes.push(axis('x', g, p.x[0], p.x[1], p.x[2], false, p.box));
  yAxes.push(axis('y', g, p.y[0], p.y[1], p.y[2], true, true));
  yAxes.push(axis('y', g, p.y[0], p.y[1], p.y[2], false, p.box));
});

const bandUp = bandYears.map((t, i) => [t, bandUpper[i]]);
const bandLo = bandYears.map((t, i) => [t, bandLower[i]]);
const spikeLine = [];
dailySpikes.slice().sort((a, b) => a[0] - b[0]).forEach(([t, v]) => {
  spikeLine.push([t, 0], [t, v], [t, 0]);
});
const vixSeries = vixLevels.concat(vixFloor).sort((a, b) => a[0] - b[0]);

function line(name, g, data, color, width, extra) {
  return Object.assign({
    type: 'line', name: name, xAxisIndex: 2 * g, yAxisIndex: 2 * g, data: data,
    symbol: 'none', showSymbol: false, silent: true, clip: true,
    lineStyle: { color: color, width: width }, itemStyle: { color: color }
  }, extra || {});
}

function scatter(name, data, color) {
  return {
    type: 'scatter', name: name, xAxisIndex: 8, yAxisIndex: 8, data: data,
    symbol: 'circle', symbolSize: 6, silent: true,
    itemStyle: { color: color, opacity: 1 }
  };
}

const series = [
  line('cum', 0, cumReturns, BLUE, 2.2),
  line('bandUp', 1, bandUp, BLUE, 1, { areaStyle: { color: BLUE, opacity: 1 } }),
  line('bandLo', 1, bandLo, BLUE, 1, { areaStyle: { color: BLUE, opacity: 1 } }),
  line('spikes', 1, spikeLine, BLUE, 1.3),
  line('vix', 2, vixSeries, BLUE, 2.0),
  line('Simulation', 3, skewSim, BLUE, 1.3),
  line('Data', 3, skewData, ORANGE, 1.3),
  scatter('Simulation', scatterSim, BLUE),
  scatter('Data', scatterData, ORANGE),
  line('Simulation', 5, invAcSim, BLUE, 1.3),
  line('Data', 5, invAcData, ORANGE, 1.3)
];

function legend(left, top) {
  return {
    left: left, top: top, orient: 'vertical', selectedMode: false,
    data: [{ name: 'Simulation', icon: 'rect' }, { name: 'Data', icon: 'rect' }],
    itemWidth: 82, itemHeight: 1.3, itemGap: 6,
    padding: [7.5, 9, 6.5, 9.5],
    itemStyle: { borderWidth: 0 },
    borderColor: AX, borderWidth: 1.3, backgroundColor: '#fff',
    textStyle: { fontSize: LEG_FONT, fontFamily: FONT, color: '#000', lineHeight: 26, padding: [0, 0, 0, 3] }
  };
}

function txt(text, x, y, size, bold, rot, align) {
  return {
    type: 'text', x: x, y: y, rotation: rot || 0, silent: true,
    style: {
      text: text, fill: bold ? '#000' : AX, align: align || 'center', verticalAlign: 'middle',
      font: (bold ? 'bold ' : '') + size + 'px ' + FONT
    }
  };
}

// scatter legend: marker keys centred in the key slot, as in the figure
const scatterKey = {
  type: 'group', silent: true,
  children: [
    { type: 'rect', shape: { x: 351.3, y: 1067.3, width: 219.7, height: 71 },
      style: { fill: '#fff', stroke: AX, lineWidth: 1.3 } },
    { type: 'circle', shape: { cx: 401.7, cy: 1087, r: 3 }, style: { fill: BLUE } },
    { type: 'circle', shape: { cx: 401.7, cy: 1118.5, r: 3 }, style: { fill: ORANGE } },
    { type: 'text', x: 450, y: 1087, style: { text: 'Simulation', fill: '#000', align: 'left', verticalAlign: 'middle', font: LEG_FONT + 'px ' + FONT } },
    { type: 'text', x: 450, y: 1118.5, style: { text: 'Data', fill: '#000', align: 'left', verticalAlign: 'middle', font: LEG_FONT + 'px ' + FONT } }
  ]
};

const chart = echarts.init(document.getElementById('chart'), null, { renderer: 'canvas' });
chart.setOption({
  animation: false,
  backgroundColor: '#fff',
  grid: grids.map(g => Object.assign({ show: false, containLabel: false, outerBoundsMode: 'none' }, g)),
  xAxis: xAxes,
  yAxis: yAxes,
  legend: [
    legend(997, 568),
    legend(997, 1318)
  ],
  series: series,
  graphic: [
    txt('Cumulative returns (simulated)', 347.5, 23, 29, true),
    txt('Daily returns (simulated)', 991.5, 23, 29, true),
    txt('VIX (simulated)', 347.5, 524, 29, true),
    txt('Skewness across horizons', 991.5, 524, 29, true),
    txt('Mkt. return vs. change in VIX', 347.5, 1024, 29, true),
    txt('VIX inverse autocorrelations', 991.5, 1024, 29, true),
    txt('Years', 347.5, 473, 29, false),
    txt('Horizon (days)', 991.5, 972, 29, false),
    txt('Mkt. return', 347.5, 1473, 29, false),
    txt('Lag (days)', 991.5, 1473, 29, false),
    txt('Change in VIX', 22, 1227, 29, false, Math.PI / 2),
    txt('1/autocorrelation', 695, 1227, 29, false, Math.PI / 2),
    scatterKey
  ]
});
</script>
</body>
</html>
